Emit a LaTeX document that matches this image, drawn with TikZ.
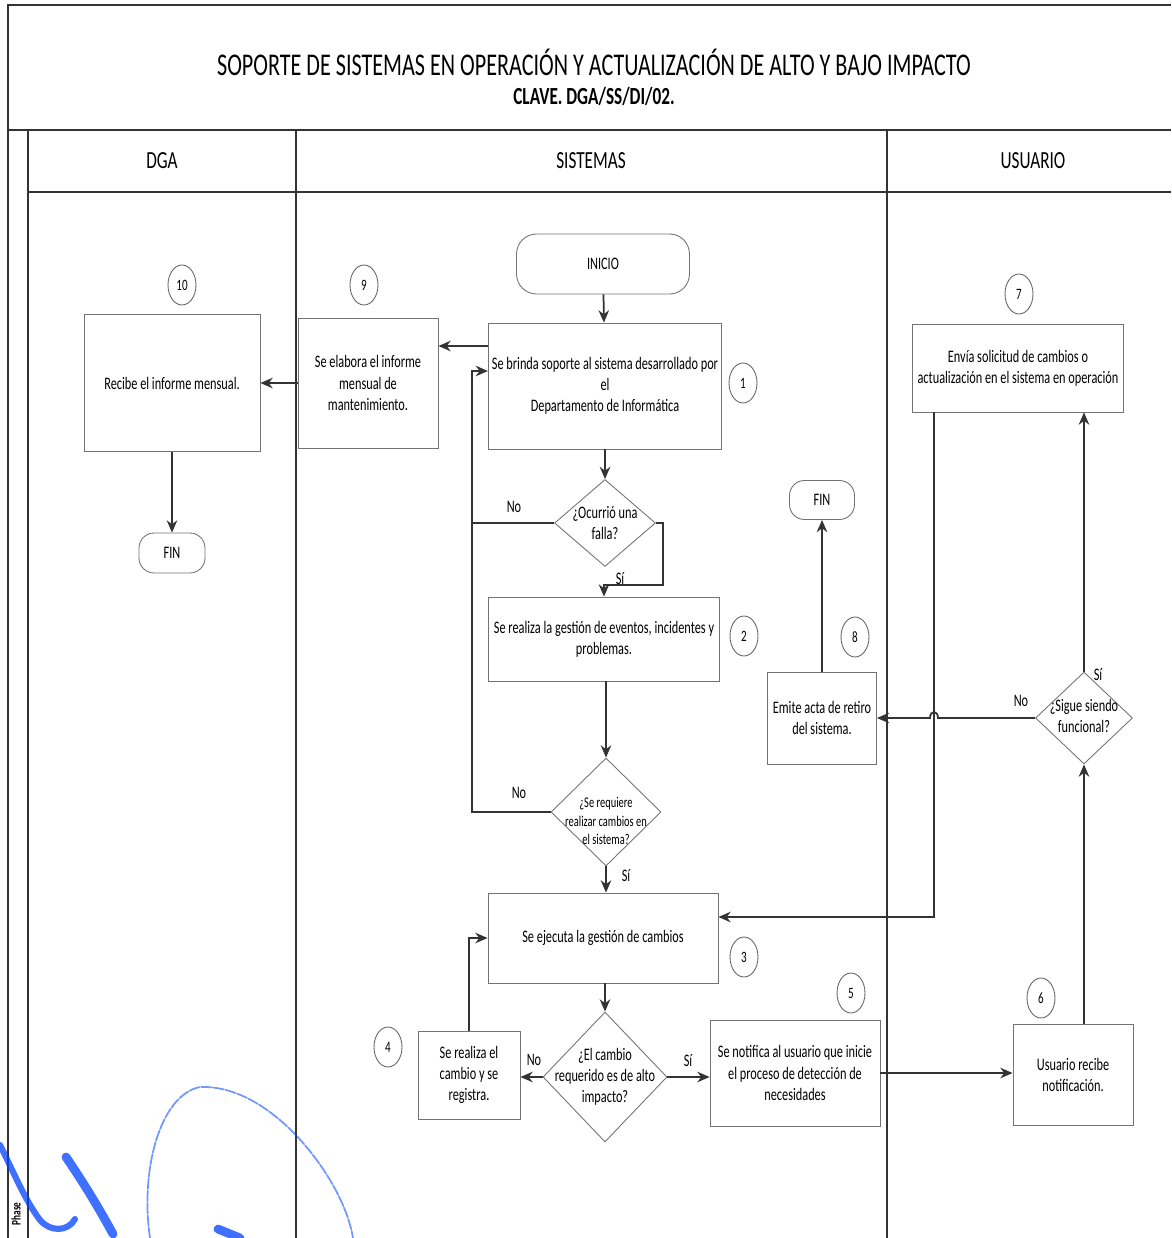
\documentclass[tikz,border=0pt]{standalone}
\usepackage{fontspec}
\setmainfont{Carlito}[FakeStretch=0.70]
\usetikzlibrary{shapes.geometric,arrows.meta}

\tikzset{
  caja/.style={draw=black!55, line width=0.5pt, align=center, inner sep=2pt, font=\fontsize{10}{12}\selectfont},
  terminal/.style={caja, rounded corners=0.4cm},
  decision/.style={draw=black!55, line width=0.5pt, diamond, inner sep=0pt},
  texto/.style={align=center, font=\fontsize{10}{12}\selectfont},
  paso/.style={draw=black!60, line width=0.5pt, ellipse, minimum width=0.56cm, minimum height=0.8cm, inner sep=0pt, font=\fontsize{9}{10}\selectfont},
  flecha/.style={-{Stealth[length=7pt,width=6pt]}, line width=1pt, black!80},
  linea/.style={line width=1pt, black!80},
  etiq/.style={font=\fontsize{10}{12}\selectfont},
  carril/.style={line width=0.8pt, black!80},
  firma/.style={blue!75!cyan, line cap=round, opacity=0.75},
}

\begin{document}
\begin{tikzpicture}[x=0.02cm,y=-0.02cm]
\useasboundingbox (0,0) rectangle (1171,1238);

% marco y carriles
\draw[carril] (1171,5) -- (8,5) -- (8,130) -- (1171,130);
\draw[carril] (8,130) -- (8,1238) (28,130) -- (28,1238);
\draw[carril] (296,130) -- (296,1238) (887,130) -- (887,1238);
\draw[carril] (28,192) -- (1171,192);

\node[font=\fontsize{18}{20}\selectfont] (titulo) at (594,62) {SOPORTE DE SISTEMAS EN OPERACIÓN Y ACTUALIZACIÓN DE ALTO Y BAJO IMPACTO};
\node[font=\bfseries\fontsize{14}{16}\selectfont] (clave) at (594,96) {CLAVE. DGA/SS/DI/02.};
\node[font=\fontsize{14}{16}\selectfont] (hdga) at (162,161) {DGA};
\node[font=\fontsize{14}{16}\selectfont] (hsis) at (591,161) {SISTEMAS};
\node[font=\fontsize{14}{16}\selectfont] (husu) at (1033,161) {USUARIO};
\node[rotate=90, font=\bfseries\fontsize{7.5}{8}\selectfont] (fase) at (16,1214) {Phase};

% SISTEMAS
\node[terminal, minimum width=3.46cm, minimum height=1.2cm] (ini) at (603,264) {INICIO};
\node[caja, minimum width=4.62cm, minimum height=2.52cm] (b1) at (605,386) {Se brinda soporte al sistema desarrollado por\\el\\Departamento de Informática};
\node[decision, minimum width=2.02cm, minimum height=1.74cm] (d1) at (605,523) {};
\node[texto] (d1t) at (605,523) {¿Ocurrió una\\falla?};
\node[caja, minimum width=4.62cm, minimum height=1.68cm] (b2) at (604,639) {Se realiza la gestión de eventos, incidentes y\\problemas.};
\node[decision, minimum width=2.2cm, minimum height=2.16cm] (d2) at (606,812) {};
\node[texto, font=\fontsize{8.5}{10.5}\selectfont] (d2t) at (606,821) {¿Se requiere\\realizar cambios en\\el sistema?};
\node[caja, minimum width=4.6cm, minimum height=1.8cm] (b3) at (603,938) {Se ejecuta la gestión de cambios};
\node[decision, minimum width=2.48cm, minimum height=2.6cm] (d3) at (605,1077) {};
\node[texto] (d3t) at (605,1077) {¿El cambio\\requerido es de alto\\impacto?};
\node[caja, minimum width=2.04cm, minimum height=1.76cm] (b4) at (469,1075) {Se realiza el\\cambio y se\\registra.};
\node[caja, minimum width=3.4cm, minimum height=2.12cm] (b5) at (795,1073) {Se notifica al usuario que inicie\\el proceso de detección de\\necesidades};
\node[caja, minimum width=2.18cm, minimum height=1.84cm] (b8) at (822,718) {Emite acta de retiro\\del sistema.};
\node[terminal, minimum width=1.3cm, minimum height=0.78cm, rounded corners=0.3cm] (fin2) at (822,500) {FIN};
\node[caja, minimum width=2.8cm, minimum height=2.6cm] (b9) at (368,383) {Se elabora el informe\\mensual de\\mantenimiento.};

% DGA
\node[caja, minimum width=3.52cm, minimum height=2.74cm] (b10) at (172,383) {Recibe el informe mensual.};
\node[terminal, minimum width=1.32cm, minimum height=0.8cm, rounded corners=0.3cm] (fin1) at (172,553) {FIN};

% USUARIO
\node[caja, minimum width=4.22cm, minimum height=1.76cm] (b7) at (1018,368) {Envía solicitud de cambios o\\actualización en el sistema en operación};
\node[decision, minimum width=1.94cm, minimum height=1.84cm] (d4) at (1084,718) {};
\node[texto] (d4t) at (1084,716) {¿Sigue siendo\\funcional?};
\node[caja, minimum width=2.4cm, minimum height=2.02cm] (b6) at (1073,1075) {Usuario recibe\\notificación.};

% numeros de paso
\node[paso] (n1) at (743,383) {1};
\node[paso] (n2) at (744,636) {2};
\node[paso] (n3) at (744,957) {3};
\node[paso] (n4) at (388,1047) {4};
\node[paso] (n5) at (851,993) {5};
\node[paso] (n6) at (1041,998) {6};
\node[paso] (n7) at (1019,294) {7};
\node[paso] (n8) at (855,637) {8};
\node[paso] (n9) at (364,285) {9};
\node[paso] (n10) at (182,285) {10};

% conectores
\coordinate (si1) at (663,585);
\coordinate (lazo) at (472,812);
\coordinate (sal7) at (934,412);
\draw[flecha] (ini) -- (b1);
\draw[flecha] (b1) -- (d1);
\draw[flecha] (d1.east) -| (si1) -- (si1 -| b2.north) -- (b2.north);
\draw[linea] (d1.west) -- (d1.west -| lazo);
\draw[flecha] (d2.west) -- (lazo) |- ([yshift=0.3cm]b1.west);
\draw[flecha] ([yshift=0.8cm]b1.west) -- ([yshift=0.8cm]b1.west -| b9.east);
\draw[flecha] (b9.west) -- (b10.east);
\draw[flecha] (b10) -- (fin1);
\draw[flecha] (b2.south -| d2.north) -- (d2.north);
\draw[flecha] (d2.south) -- (d2.south |- b3.north);
\draw[flecha] (b3.south -| d3.north) -- (d3.north);
\draw[flecha] (d3.west) -- (b4.east |- d3.west);
\draw[flecha] (d3.east) -- (b5.west |- d3.east);
\draw[flecha] (b4.north) |- (b3.west);
\draw[flecha] (b5.east) -- (b5.east -| b6.west);
\draw[flecha] (d4.south |- b6.north) -- (d4.south);
\draw[flecha] (d4.north) -- (d4.north |- b7.south);
\draw[flecha] (d4.west) -- (938,718) .. controls (938,710) and (930,710) .. (930,718) -- (b8.east);
\draw[flecha] (sal7) |- ([yshift=0.42cm]b3.east);
\draw[flecha] (b8.north) -- (fin2.south);

% etiquetas
\node[etiq] (no1) at (514,507) {No};
\node[etiq] (si1t) at (620,579) {Sí};
\node[etiq] (no2) at (519,793) {No};
\node[etiq] (si2) at (626,876) {Sí};
\node[etiq] (no3) at (534,1060) {No};
\node[etiq] (si3) at (688,1061) {Sí};
\node[etiq] (si4) at (1098,675) {Sí};
\node[etiq] (no4) at (1021,701) {No};

% firma
\draw[firma, line width=1pt, opacity=0.55, dash pattern=on 6pt off 1pt] (150,1238) .. controls (140,1170) and (160,1095) .. (200,1087) .. controls (250,1085) and (300,1130) .. (330,1180) .. controls (342,1200) and (350,1220) .. (353,1238);
\draw[firma, line width=5pt] (66,1157) .. controls (85,1185) and (100,1210) .. (113,1234);
\draw[firma, line width=3.5pt] (0,1145) .. controls (15,1175) and (25,1200) .. (40,1220) .. controls (50,1232) and (68,1232) .. (75,1219);
\draw[firma, line width=5pt] (218,1229) -- (240,1238);
\end{tikzpicture}
\end{document}
